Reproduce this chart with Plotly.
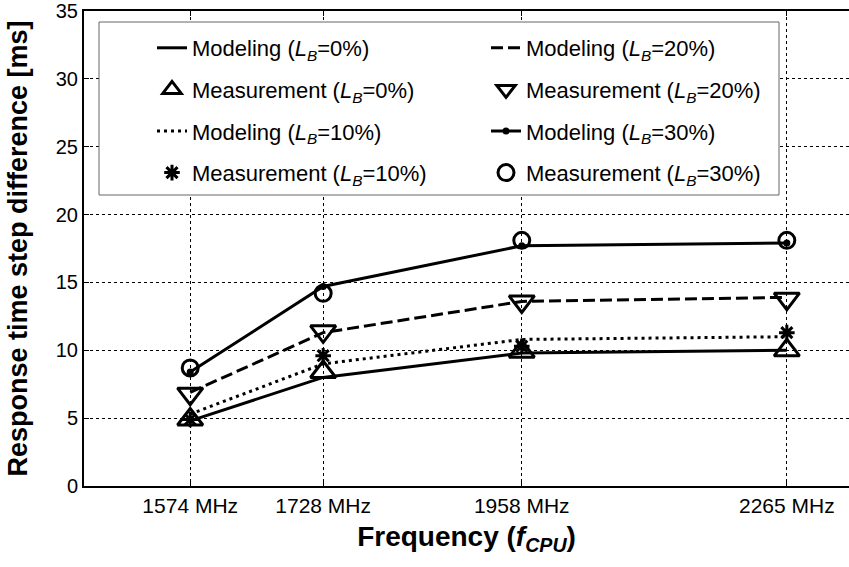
import plotly.graph_objects as go

freq = [1574, 1728, 1958, 2265]
tick_text = ["1574 MHz", "1728 MHz", "1958 MHz", "2265 MHz"]

model_0 = [4.8, 8.0, 9.8, 10.0]
meas_0 = [4.9, 8.4, 9.9, 10.0]
model_10 = [5.3, 9.0, 10.8, 11.0]
meas_10 = [4.9, 9.6, 10.3, 11.3]
model_20 = [6.9, 11.3, 13.6, 13.9]
meas_20 = [6.8, 11.4, 13.6, 13.8]
model_30 = [8.4, 14.7, 17.7, 17.9]
meas_30 = [8.7, 14.2, 18.1, 18.1]

LB = "<i>L</i><sub><i>B</i></sub>"
W, H = 849, 567
FONT = "Arial, Liberation Sans, Helvetica, sans-serif"

fig = go.Figure()

def line(y, name, dash, legend, mk=None):
    kw = dict(x=freq, y=y, mode="lines", name=name, legend=legend, legendgroup=name,
              line=dict(color="black", width=3, dash=dash))
    if mk:
        kw["mode"] = "lines+markers"
        kw["marker"] = dict(symbol="circle", size=7, color="black")
    fig.add_trace(go.Scatter(**kw))

def meas(y, name, symbol, size, legend):
    fig.add_trace(go.Scatter(x=freq, y=y, mode="markers", name=name, legend=legend, legendgroup=name,
                             marker=dict(symbol=symbol, size=size, color="black",
                                         line=dict(color="black", width=3))))

line(model_0, f"Modeling ({LB}=0%)", "solid", "legend")
meas(meas_0, f"Measurement ({LB}=0%)", "triangle-up-open", 22, "legend")
line(model_10, f"Modeling ({LB}=10%)", "3px,4px", "legend")
meas(meas_10, f"Measurement ({LB}=10%)", "asterisk-open", 13, "legend")
line(model_20, f"Modeling ({LB}=20%)", "12px,5px", "legend2")
meas(meas_20, f"Measurement ({LB}=20%)", "triangle-down-open", 22, "legend2")
line(model_30, f"Modeling ({LB}=30%)", "solid", "legend2", mk=True)
meas(meas_30, f"Measurement ({LB}=30%)", "circle-open", 16, "legend2")

L, T, B = 84, 11, 486
pw, ph = W - L, B - T

def px(x):
    return (x - L) / pw

def py(y):
    return 1 - (y - T) / ph

fig.add_shape(type="rect", xref="paper", yref="paper", x0=px(99), x1=px(779), y0=py(195), y1=py(22),
              line=dict(color="#666666", width=1), fillcolor="white", layer="above")

leg_common = dict(font=dict(family=FONT, size=22, color="black"), bgcolor="rgba(0,0,0,0)",
                  borderwidth=0, tracegroupgap=10, xref="paper", yref="paper",
                  xanchor="left", yanchor="top")

fig.update_layout(
    width=W, height=H,
    margin=dict(l=L, r=0, t=T, b=H - B, autoexpand=False),
    paper_bgcolor="white", plot_bgcolor="white",
    font=dict(family=FONT, color="black", size=20),
    legend=dict(x=px(152), y=py(27), **leg_common),
    legend2=dict(x=px(486), y=py(27), **leg_common),
    xaxis=dict(range=[1451, 2337], tickvals=freq, ticktext=tick_text,
               showgrid=True, gridcolor="black", griddash="dot", gridwidth=1,
               showline=True, linecolor="black", linewidth=2, mirror="ticks",
               ticks="inside", ticklen=5, tickcolor="black", zeroline=False,
               tickfont=dict(size=21),
               title=dict(text="<b>Frequency (<i>f</i><sub><i>CPU</i></sub>)</b>",
                          font=dict(size=28), standoff=10)),
    yaxis=dict(range=[0, 35], tickvals=[0, 5, 10, 15, 20, 25, 30, 35],
               showgrid=True, gridcolor="black", griddash="dot", gridwidth=1,
               showline=True, linecolor="black", linewidth=2, mirror=False,
               ticks="inside", ticklen=5, tickcolor="black", zeroline=False,
               tickfont=dict(size=20),
               title=dict(text="<b>Response time step difference [ms]</b>",
                          font=dict(size=27), standoff=20)),
)

fig.write_html("out.html")
